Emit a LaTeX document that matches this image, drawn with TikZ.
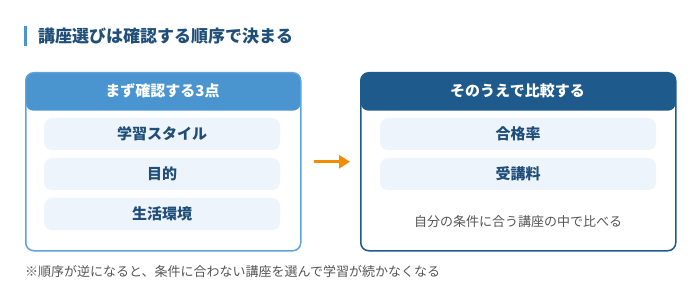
\documentclass[tikz,border=0pt]{standalone}
\usepackage{fontspec}
\setmainfont{Noto Sans CJK JP}
\usetikzlibrary{arrows.meta}
\definecolor{titleblue}{HTML}{1F4E79}
\definecolor{lblue}{HTML}{4A94D0}
\definecolor{lborder}{HTML}{5EA3DB}
\definecolor{dblue}{HTML}{1F5A8C}
\definecolor{itemfill}{HTML}{EDF4FB}
\definecolor{itemtext}{HTML}{1F4E79}
\definecolor{greytext}{HTML}{555555}
\definecolor{arroworange}{HTML}{F28C00}
\tikzset{
  panel/.style n args={2}{draw=#1, line width=1.5pt, fill=white, rounded corners=8pt,
    anchor=north west, inner sep=0pt,
    path picture={\fill[#2] (path picture bounding box.north west) rectangle ([yshift=-38pt]path picture bounding box.north east);}},
  hdrtext/.style={text=white, font=\fontsize{15}{15}\selectfont\bfseries, inner sep=0pt},
  itembox/.style={fill=itemfill, rounded corners=8pt, minimum height=32pt, inner sep=0pt,
    text=itemtext, font=\fontsize{15}{15}\selectfont\bfseries},
  note/.style={text=greytext, font=\fontsize{13}{13}\selectfont, inner sep=0pt},
}
\begin{document}
\begin{tikzpicture}[x=1pt,y=-1pt]
\useasboundingbox (0,0) rectangle (700,296);
% title
\fill[lblue] (24,26) rectangle (27,46);
\node[anchor=west, inner sep=0pt, text=titleblue, font=\fontsize{17}{17}\selectfont\bfseries] (title) at (38,36) {講座選びは確認する順序で決まる};
% left panel
\node[panel={lborder}{lblue}, minimum width=275pt, minimum height=178pt] (L) at (25,72) {};
\node[hdrtext] (Lh) at (162.5,91) {まず確認する3点};
\node[itembox, minimum width=236pt] (L1) at (162,134) {学習スタイル};
\node[itembox, minimum width=236pt] (L2) at (162,174) {目的};
\node[itembox, minimum width=236pt] (L3) at (162,214) {生活環境};
% right panel
\node[panel={dblue}{dblue}, minimum width=315pt, minimum height=178pt] (R) at (360,72) {};
\node[hdrtext] (Rh) at (517.5,91) {そのうえで比較する};
\node[itembox, minimum width=276pt] (R1) at (518,134) {合格率};
\node[itembox, minimum width=276pt] (R2) at (518,174) {受講料};
\node[note] (Rn) at (518,222) {自分の条件に合う講座の中で比べる};
% arrow
\draw[arroworange, line width=3pt, -{Triangle[length=11pt,width=13pt]}] ([xshift=12pt]L.east) -- ([xshift=-10pt]R.west);
% footnote
\node[note, anchor=west] (foot) at (25,272) {※順序が逆になると、条件に合わない講座を選んで学習が続かなくなる};
\end{tikzpicture}
\end{document}
